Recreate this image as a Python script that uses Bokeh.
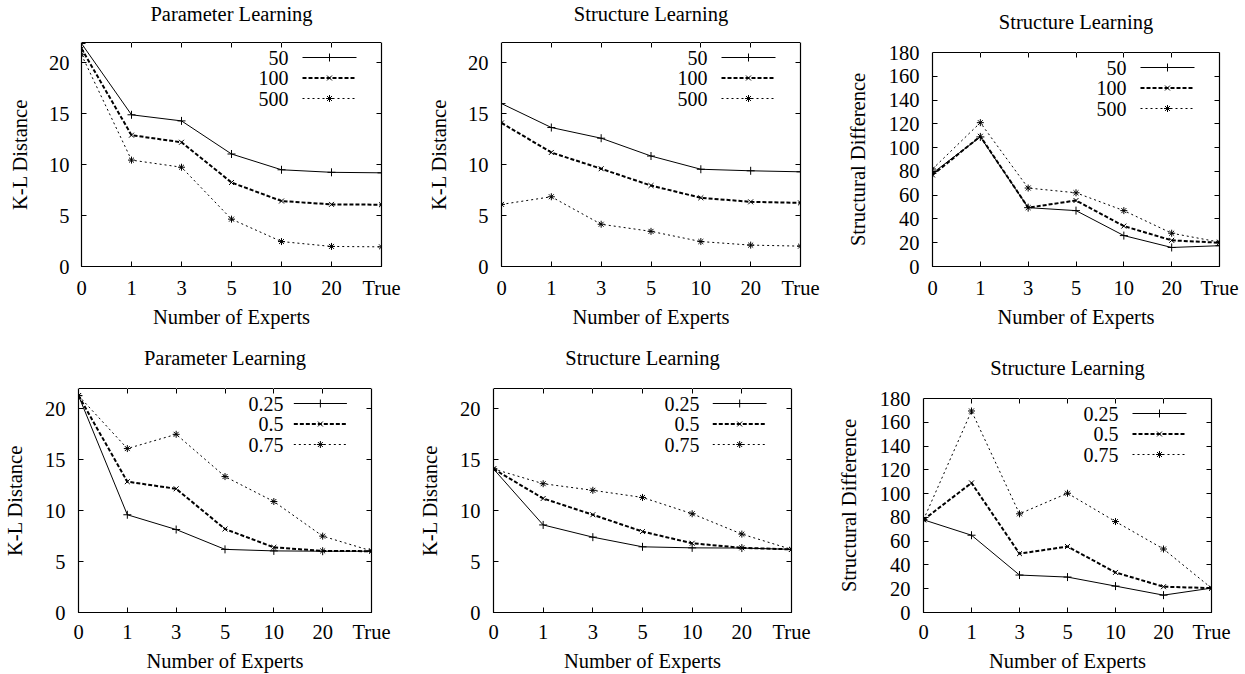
from bokeh.plotting import figure
from bokeh.models import Range1d, FixedTicker, LinearAxis, Label, Title
from bokeh.layouts import row, column
from bokeh.embed import file_html
from bokeh.resources import INLINE

# ---------------- data ----------------
categories = ["0", "1", "3", "5", "10", "20", "True"]

sample_names = ["50", "100", "500"]
fraction_names = ["0.25", "0.5", "0.75"]

kl_param_50 = [21.9, 14.9, 14.3, 11.05, 9.5, 9.25, 9.2]
kl_param_100 = [21.4, 12.9, 12.2, 8.25, 6.43, 6.1, 6.07]
kl_param_500 = [20.8, 10.45, 9.75, 4.65, 2.45, 1.97, 1.93]

kl_struct_50 = [16.0, 13.65, 12.6, 10.85, 9.55, 9.4, 9.3]
kl_struct_100 = [14.1, 11.2, 9.6, 7.95, 6.75, 6.35, 6.25]
kl_struct_500 = [6.1, 6.85, 4.15, 3.45, 2.45, 2.1, 2.0]

sd_50 = [78.5, 109, 49.5, 47, 26, 16, 17.5]
sd_100 = [77, 109.5, 49.5, 55.5, 34, 22, 20]
sd_500 = [82, 121, 66, 62, 47, 28, 20.5]

kl_param_025 = [21.3, 9.6, 8.15, 6.2, 6.05, 6.02, 6.02]
kl_param_05 = [21.3, 12.85, 12.15, 8.2, 6.4, 6.05, 6.02]
kl_param_075 = [21.3, 16.1, 17.5, 13.35, 10.9, 7.5, 6.05]

kl_struct_025 = [14.1, 8.6, 7.4, 6.45, 6.35, 6.33, 6.2]
kl_struct_05 = [14.1, 11.2, 9.6, 7.95, 6.8, 6.35, 6.2]
kl_struct_075 = [14.1, 12.65, 12.0, 11.3, 9.7, 7.7, 6.2]

sd_025 = [78, 65, 31.5, 29.8, 22.2, 14.6, 20.5]
sd_05 = [78, 109, 49.5, 55.5, 33.7, 21.7, 20.5]
sd_075 = [78, 169.5, 83, 100.3, 76.5, 53.4, 20.5]

kl_ticks = [0, 5, 10, 15, 20]
sd_ticks = [0, 20, 40, 60, 80, 100, 120, 140, 160, 180]

# ---------------- styling ----------------
FONT = "Liberation Serif"
FS = "20.5px"
LFS = "20px"
STYLES = [
    dict(dash="solid", lw=1.0, marker="cross", size=8),
    dict(dash="4 2", lw=2.0, marker="x", size=7),
    dict(dash="2 3", lw=1.0, marker="asterisk", size=7),
]


def style_axis(ax):
    ax.axis_line_color = None
    ax.major_tick_in = 5
    ax.major_tick_out = 0
    ax.minor_tick_in = 5
    ax.minor_tick_out = 0
    ax.major_tick_line_color = "black"
    ax.minor_tick_line_color = "black"
    ax.major_label_text_font = FONT
    ax.major_label_text_font_size = FS
    ax.major_label_text_color = "black"
    ax.axis_label_text_font = FONT
    ax.axis_label_text_font_size = FS
    ax.axis_label_text_font_style = "normal"
    ax.axis_label_text_color = "black"


def make_panel(title, ylabel, yend, yticks, series, names, width, height,
               bl, br, bt, bb, t_gap, xl_so, xa_so, yl_so, ya_so):
    fw = width - bl - br
    fh = height - bt - bb
    p = figure(width=width, height=height, x_range=Range1d(0, 6),
               y_range=Range1d(0, yend), output_backend="svg",
               toolbar_location=None, min_border_left=bl, min_border_right=br,
               min_border_top=bt, min_border_bottom=bb)
    p.frame_align = False
    p.grid.visible = False
    p.outline_line_color = "black"
    p.outline_line_width = 1.2
    p.extra_x_ranges = {"px": Range1d(0, fw)}
    p.extra_y_ranges = {"px": Range1d(0, fh)}
    p.title.text = ""

    xs = list(range(len(categories)))
    for vals, st in zip(series, STYLES):
        p.line(xs, vals, line_color="black", line_width=st["lw"], line_dash=st["dash"])
        p.scatter(xs, vals, marker=st["marker"], size=st["size"],
                  line_color="black", fill_color=None, line_width=1)

    xa = p.xaxis[0]
    style_axis(xa)
    xa.ticker = FixedTicker(ticks=xs)
    xa.major_label_overrides = {i: c for i, c in enumerate(categories)}
    xa.major_label_standoff = xl_so
    xa.axis_label = "Number of Experts"
    xa.axis_label_standoff = xa_so

    ya = p.yaxis[0]
    style_axis(ya)
    ya.ticker = FixedTicker(ticks=yticks)
    ya.major_label_standoff = yl_so
    ya.axis_label = ylabel
    ya.axis_label_standoff = ya_so

    # mirrored tick marks (gnuplot style) on top and right, as unlabeled minor ticks
    top = LinearAxis(ticker=FixedTicker(ticks=[], minor_ticks=xs))
    style_axis(top)
    top.major_label_standoff = 0
    top.axis_label_standoff = 0
    p.add_layout(top, "above")
    right = LinearAxis(ticker=FixedTicker(ticks=[], minor_ticks=yticks))
    style_axis(right)
    right.major_label_standoff = 0
    right.axis_label_standoff = 0
    p.add_layout(right, "right")

    # blank spacer between the frame and the title (white outward ticks, no labels drawn)
    spacer = LinearAxis(ticker=FixedTicker(ticks=xs))
    spacer.axis_line_color = None
    spacer.major_tick_in = 0
    spacer.major_tick_out = t_gap
    spacer.major_tick_line_color = "white"
    spacer.minor_tick_line_color = None
    spacer.major_label_text_color = None
    spacer.major_label_text_font_size = "1px"
    spacer.major_label_standoff = 0
    spacer.axis_label_standoff = 0
    p.add_layout(spacer, "above")

    p.add_layout(Title(text=title, align="center", text_font=FONT, text_font_size=FS,
                       text_font_style="normal", text_color="black", standoff=0), "above")

    # gnuplot-style key: label on the left, sample line on the right
    gw = 54
    row_h = 20.5
    x1 = fw - 25 - gw
    for i, (nm, st) in enumerate(zip(names, STYLES)):
        yc = fh - 15 - i * row_h
        p.line([x1, x1 + gw], [yc, yc], x_range_name="px", y_range_name="px",
               line_color="black", line_width=st["lw"], line_dash=st["dash"])
        p.scatter([x1 + gw / 2], [yc], x_range_name="px", y_range_name="px",
                  marker=st["marker"], size=st["size"], line_color="black",
                  fill_color=None, line_width=1)
        p.add_layout(Label(x=x1 - 14, y=yc, x_units="screen", y_units="screen",
                           text=nm, text_align="right", text_baseline="middle",
                           text_font=FONT, text_font_size=LFS, text_color="black"))
    return p


p1 = make_panel("Parameter Learning", "K-L Distance", 22, kl_ticks,
                [kl_param_50, kl_param_100, kl_param_500], sample_names,
                415, 330, 81, 34, 42, 64, 18, 10, 4, 12, 15)
p2 = make_panel("Structure Learning", "K-L Distance", 22, kl_ticks,
                [kl_struct_50, kl_struct_100, kl_struct_500], sample_names,
                415, 330, 86, 30, 42, 64, 18, 10, 4, 13, 15)
p3 = make_panel("Structure Learning", "Structural Difference", 180, sd_ticks,
                [sd_50, sd_100, sd_500], sample_names,
                415, 330, 102, 26, 52, 64, 20, 10, 4, 13, 17)
p4 = make_panel("Parameter Learning", "K-L Distance", 22, kl_ticks,
                [kl_param_025, kl_param_05, kl_param_075], fraction_names,
                415, 344, 73, 44, 58, 62, 20, 8, 4, 13, 16)
p5 = make_panel("Structure Learning", "K-L Distance", 22, kl_ticks,
                [kl_struct_025, kl_struct_05, kl_struct_075], fraction_names,
                415, 344, 77, 39, 58, 62, 20, 8, 4, 13, 16)
p6 = make_panel("Structure Learning", "Structural Difference", 180, sd_ticks,
                [sd_025, sd_05, sd_075], fraction_names,
                415, 344, 93, 34, 68, 62, 20, 8, 4, 13, 17)

layout = column(row(p1, p2, p3), row(p4, p5, p6))
open("out.html", "w").write(file_html(layout, INLINE))
